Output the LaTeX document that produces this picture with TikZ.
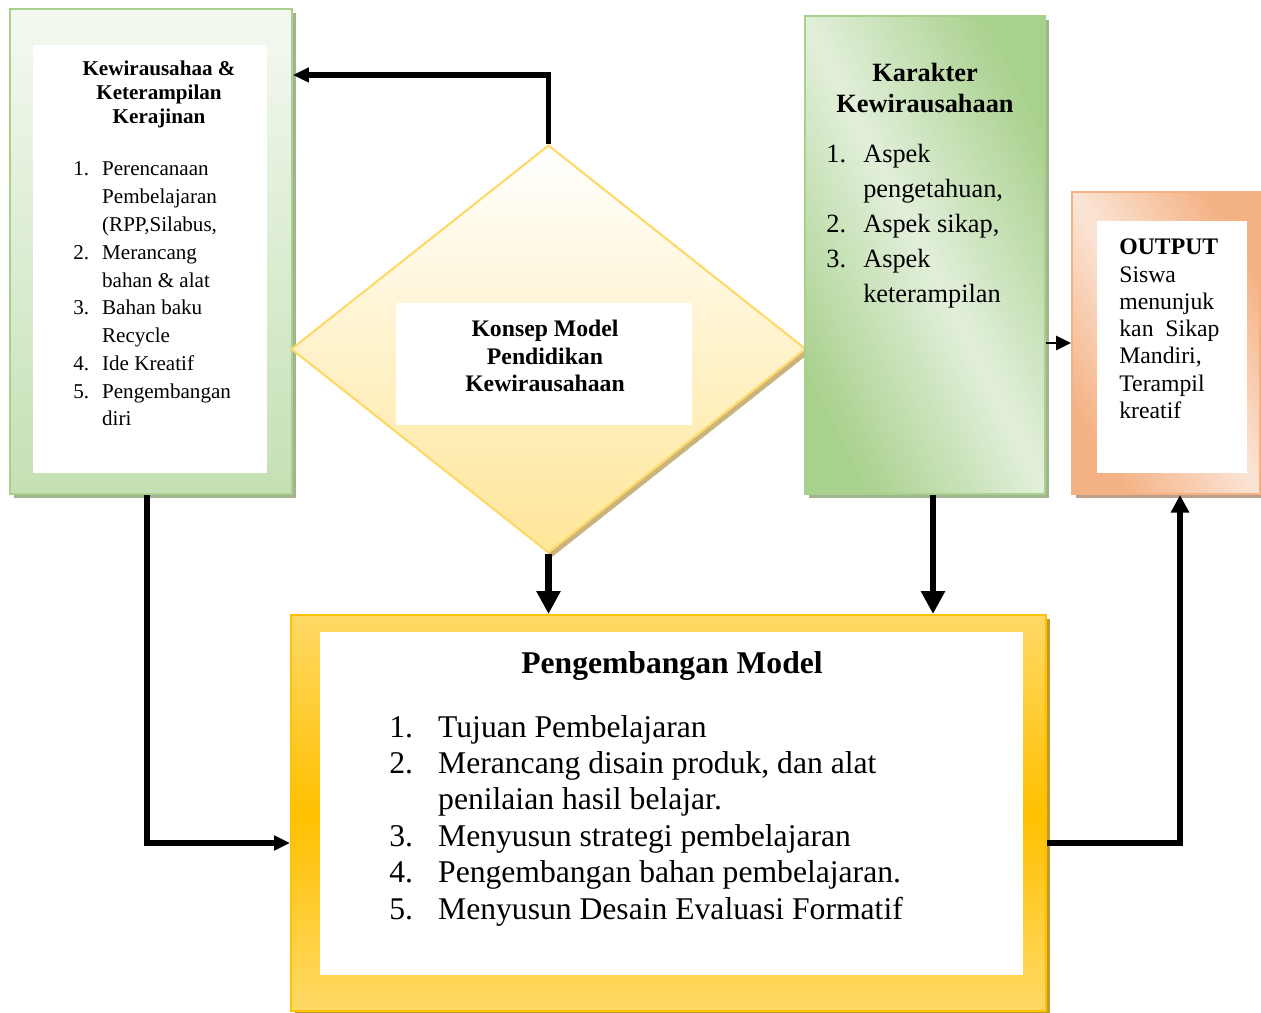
\documentclass[tikz,border=0pt]{standalone}
\usepackage{fontspec}
\setmainfont{Liberation Serif}
\usetikzlibrary{shapes.geometric,arrows.meta,shadows}

\definecolor{grnLine}{HTML}{A9D18E}
\definecolor{grnLight}{HTML}{E2EFDA}
\definecolor{grnTop}{HTML}{F4F9F1}
\definecolor{grnBottom}{HTML}{C5E0B4}
\definecolor{grnShadow}{HTML}{9FB48F}
\definecolor{yelLine}{HTML}{FFD966}
\definecolor{yelBottom}{HTML}{FFE699}
\definecolor{dmdShadow}{HTML}{C9B37E}
\definecolor{gold}{HTML}{FFC000}
\definecolor{goldLight}{HTML}{FFD966}
\definecolor{goldShadow}{HTML}{BF9B30}
\definecolor{peachLine}{HTML}{F4B183}
\definecolor{peachLight}{HTML}{FBE5D6}
\definecolor{peachShadow}{HTML}{BF9F8C}

\begin{document}
\begin{tikzpicture}[x=0.02cm,y=-0.02cm,
        box/.style={draw, line width=1.2pt, inner sep=0pt},
        inbox/.style={fill=white, inner sep=0pt},
        txt/.style={inner sep=0pt, anchor=base},
        shade/.style={drop shadow={shadow xshift=2.3pt, shadow yshift=-2.3pt, fill=#1, opacity=1}},
        arrowA/.style={line width=3pt, -{Triangle[length=9pt,width=8pt]}},
        arrowB/.style={line width=3.7pt, -{Triangle[length=13pt,width=13pt]}},
        arrowC/.style={line width=3.7pt, -{Triangle[length=10pt,width=10pt]}},
        arrowD/.style={line width=1.7pt, -{Triangle[length=8.5pt,width=8pt]}}]
                \useasboundingbox (0,0) rectangle (1261,1013);
                % Kewirausahaan box
                \node [box, draw=grnLine, top color=grnTop, bottom color=grnBottom, shade=grnShadow,
                       minimum width=5.64cm, minimum height=9.7cm] (kew) at (151,251.5) {};
                \node [inbox, minimum width=4.68cm, minimum height=8.56cm] (kewIn) at (150,259) {};
                \node [txt, font=\bfseries\fontsize{12}{13.6}\selectfont] (kewTitle) at (159,76)
                      {\begin{tabular}[t]{@{}c@{}}Kewirausahaa \&\\Keterampilan\\Kerajinan\end{tabular}};
                \node [txt, anchor=base west, font=\fontsize{12}{15.8}\selectfont] (kewList) at (73,176)
                      {\begin{tabular}[t]{@{}p{16.4pt}@{}l@{}}
                       1. & Perencanaan\\ & Pembelajaran\\ & (RPP,Silabus,\\
                       2. & Merancang\\ & bahan \& alat\\
                       3. & Bahan baku\\ & Recycle\\
                       4. & Ide Kreatif\\
                       5. & Pengembangan\\ & diri
                       \end{tabular}};
                % Konsep diamond
                \node [box, diamond, draw=yelLine, top color=white, bottom color=yelBottom, shade=dmdShadow,
                       minimum width=10.3cm, minimum height=8.16cm] (konsep) at (548.5,349) {};
                \node [inbox, minimum width=5.92cm, minimum height=2.44cm] (konsepIn) at (544,364) {};
                \node [txt, font=\bfseries\fontsize{13.5}{15.6}\selectfont] (konsepTitle) at (545,337)
                      {\begin{tabular}[t]{@{}c@{}}Konsep Model\\Pendidikan\\Kewirausahaan\end{tabular}};
                % Karakter box
                \node [box, draw=grnLine, top color=grnLine, bottom color=grnLine, middle color=grnLight,
                       shading angle=-63, shade=grnShadow,
                       minimum width=4.8cm, minimum height=9.56cm] (karakter) at (925,255) {};
                \node [txt, font=\bfseries\fontsize{15}{17.6}\selectfont] (karTitle) at (925,82)
                      {\begin{tabular}[t]{@{}c@{}}Karakter\\Kewirausahaan\end{tabular}};
                \node [txt, anchor=base west, font=\fontsize{15}{19.85}\selectfont] (karList) at (826,163)
                      {\begin{tabular}[t]{@{}p{21pt}@{}l@{}}
                       1. & Aspek\\ & pengetahuan,\\
                       2. & Aspek sikap,\\
                       3. & Aspek\\ & keterampilan
                       \end{tabular}};
                % Output box
                \node [box, draw=peachLine, top color=peachLine, bottom color=peachLine, middle color=peachLight,
                       shading angle=-58, shade=peachShadow,
                       minimum width=3.76cm, minimum height=6.04cm] (output) at (1166,343) {};
                \node [inbox, minimum width=3cm, minimum height=5.04cm] (outIn) at (1172,347) {};
                \node [txt, anchor=base west, font=\fontsize{13.5}{15.5}\selectfont] (outText) at (1119,255)
                      {\begin{tabular}[t]{@{}l@{}}\textbf{OUTPUT}\\Siswa\\menunjuk\\kan~ Sikap\\Mandiri,\\Terampil\\kreatif\end{tabular}};
                % Pengembangan box
                \node [box, draw=gold, top color=goldLight, bottom color=goldLight, middle color=gold,
                       shade=goldShadow,
                       minimum width=15.1cm, minimum height=7.92cm] (dev) at (668.5,813) {};
                \node [inbox, minimum width=14.06cm, minimum height=6.86cm] (devIn) at (671.5,803.5) {};
                \node [txt, font=\bfseries\fontsize{18}{21}\selectfont] (devTitle) at (672,673) {Pengembangan Model};
                \node [txt, anchor=base west, font=\fontsize{18}{20.75}\selectfont] (devList) at (389,737)
                      {\begin{tabular}[t]{@{}p{27.8pt}@{}l@{}}
                       1. & Tujuan Pembelajaran\\
                       2. & Merancang disain produk, dan alat\\ & penilaian hasil belajar.\\
                       3. & Menyusun strategi pembelajaran\\
                       4. & Pengembangan bahan pembelajaran.\\
                       5. & Menyusun Desain Evaluasi Formatif
                       \end{tabular}};
                % Arrows
                \coordinate (topbend) at (549,75);
                \coordinate (lbend) at (147,843);
                \coordinate (rbend) at (1180,843);
                \draw [arrowA] (konsep.north) |- (topbend -| kew.east);
                \draw [arrowB] (konsep.south) -- (konsep.south |- dev.north);
                \draw [arrowB] ([xshift=0.16cm]karakter.south) -- ([xshift=0.16cm]karakter.south |- dev.north);
                \draw [arrowA] (kew.south -| lbend) |- (lbend -| dev.west);
                \draw [arrowC] (dev.east |- rbend) -| (rbend |- output.south);
                \draw [arrowD] (karakter.east |- output.west) -- (output.west);
\end{tikzpicture}
\end{document}
